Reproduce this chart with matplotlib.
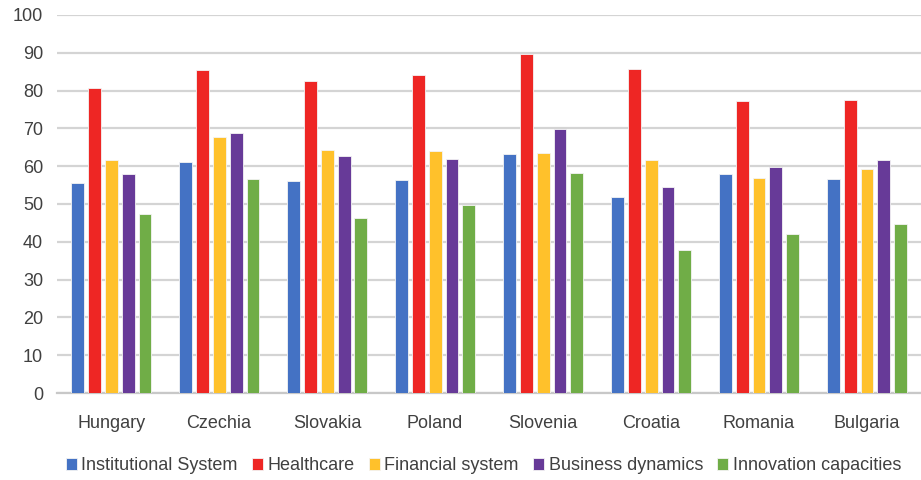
import numpy as np
import matplotlib.pyplot as plt

countries = ['Hungary', 'Czechia', 'Slovakia', 'Poland', 'Slovenia', 'Croatia', 'Romania', 'Bulgaria']
series_names = ['Institutional System', 'Healthcare', 'Financial system', 'Business dynamics', 'Innovation capacities']

institutional = [55.5, 61.0, 56.2, 56.4, 63.3, 51.8, 57.9, 56.6]
healthcare = [80.7, 85.5, 82.5, 84.0, 89.7, 85.6, 77.2, 77.5]
financial = [61.6, 67.7, 64.3, 64.0, 63.6, 61.7, 56.9, 59.3]
business = [58.0, 68.8, 62.8, 62.0, 69.9, 54.5, 59.7, 61.7]
innovation = [47.4, 56.7, 46.2, 49.8, 58.1, 37.8, 42.2, 44.8]

colors = ['#4472C4', '#EE2624', '#FFC12B', '#673A98', '#70AD47']

plt.rcParams['font.family'] = ['Liberation Sans', 'DejaVu Sans']

fig = plt.figure(figsize=(9.21, 4.8), dpi=100)
ax = fig.add_axes([0.062, 0.181, 0.938, 0.788])

x = np.arange(len(countries))
width = 0.12
step = 0.157
data = [institutional, healthcare, financial, business, innovation]
for i, (vals, c, name) in enumerate(zip(data, colors, series_names)):
    ax.bar(x + (i - 2) * step, vals, width, color=c, label=name,
           edgecolor='#F4F4F4', linewidth=0.6, zorder=3)

ax.set_xlim(-0.5, len(countries) - 0.5)
ax.set_ylim(0, 100)
ax.set_yticks(range(0, 101, 10))
ax.yaxis.grid(True, color='#D4D4D4', linewidth=1.6, zorder=0)
ax.set_axisbelow(True)
for s in ['top', 'right', 'left']:
    ax.spines[s].set_visible(False)
ax.spines['bottom'].set_color('#C8C8C8')
ax.spines['bottom'].set_linewidth(1.6)
ax.tick_params(axis='both', length=0, labelsize=13, colors='#404040')
ax.tick_params(axis='x', pad=16)
ax.tick_params(axis='y', pad=10)
ax.set_xticks(x)
ax.set_xticklabels(countries)

leg = fig.legend(loc='lower center', bbox_to_anchor=(0.525, -0.022), ncol=5, frameon=False,
                 fontsize=13, handlelength=0.6, handleheight=0.6, handletextpad=0.25,
                 columnspacing=0.8)
for t in leg.get_texts():
    t.set_color('#404040')

fig.savefig('out.png', dpi=100)
